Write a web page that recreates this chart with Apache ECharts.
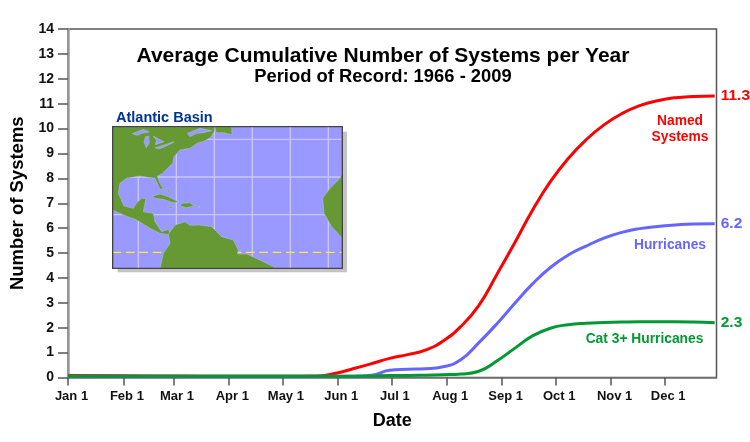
<!DOCTYPE html>
<html>
<head>
<meta charset="utf-8">
<style>
  html, body { margin: 0; padding: 0; background: #fff; }
  #chart { width: 750px; height: 442px; }
</style>
<script src="https://cdn.jsdelivr.net/npm/echarts@6/dist/echarts.min.js"></script>
</head>
<body>
<div id="chart"></div>
<script>
// day of year for the month ticks
var tickDays = [1, 32, 60, 91, 121, 152, 182, 213, 244, 274, 305, 335];
var tickLabels = ["Jan 1", "Feb 1", "Mar 1", "Apr 1", "May 1", "Jun 1", "Jul 1", "Aug 1", "Sep 1", "Oct 1", "Nov 1", "Dec 1"];

var days = [1, 31, 61, 91, 121, 141, 151, 161, 171, 181, 191, 201, 211, 221, 231, 241, 251, 261, 271, 281, 291, 301, 311, 321, 331, 341, 351, 363];
var named = [0.08, 0.07, 0.06, 0.05, 0.05, 0.06, 0.17, 0.36, 0.56, 0.77, 0.92, 1.1, 1.47, 2.06, 2.9, 4.13, 5.4, 6.72, 7.87, 8.8, 9.55, 10.15, 10.6, 10.92, 11.12, 11.24, 11.29, 11.31];
var hurricanes = [0.05, 0.05, 0.05, 0.05, 0.05, 0.05, 0.05, 0.05, 0.09, 0.29, 0.33, 0.35, 0.43, 0.72, 1.4, 2.15, 2.97, 3.76, 4.42, 4.92, 5.28, 5.6, 5.83, 5.98, 6.07, 6.13, 6.17, 6.18];
var major = [0.05, 0.05, 0.05, 0.05, 0.05, 0.05, 0.05, 0.05, 0.06, 0.08, 0.08, 0.09, 0.11, 0.14, 0.25, 0.66, 1.17, 1.67, 1.98, 2.12, 2.18, 2.21, 2.23, 2.24, 2.24, 2.24, 2.23, 2.2];
var endLabels = ["11.3", "6.2", "2.3"];

var RED = "#ff0000", BLUE = "#6666ff", GREEN = "#009933";
var FONT = '"Liberation Sans", Arial, sans-serif';

function pairs(values) {
  return days.map(function (d, i) {
    return [d, values[i]];
  });
}

function curve(name, values, color, label) {
  return {
    name: name,
    type: "line",
    data: pairs(values),
    smooth: 0.5,
    showSymbol: false,
    clip: false,
    lineStyle: { color: color, width: 3 },
    endLabel: {
      show: true,
      formatter: label,
      color: color,
      fontFamily: FONT,
      fontWeight: "bold",
      fontSize: 15.5,
      distance: 6,
    },
  };
}

// inset map, outlines are in a 3x space and scaled down below
var OCEAN = "#9999ff", LAND = "#669933", GRAT = "#c8c8ff";
var land = [
  [[38, 80], [345, 80], [342, 96], [332, 112], [310, 125], [295, 128], [270, 145], [240, 150], [222, 170], [218, 190], [185, 222], [172, 228], [180, 250], [190, 266], [180, 268], [165, 235], [118, 228], [80, 235], [60, 250], [55, 280], [72, 318], [100, 325], [110, 308], [125, 295], [138, 295], [130, 335], [160, 340], [165, 365], [185, 395], [205, 388], [213, 405], [206, 404], [180, 400], [150, 385], [110, 360], [70, 345], [38, 330]],
  [[205, 402], [225, 375], [255, 365], [270, 376], [300, 375], [335, 380], [365, 410], [400, 420], [415, 450], [412, 462], [440, 462], [480, 480], [530, 505], [180, 505], [190, 460], [210, 430]],
  [[727, 215], [720, 235], [690, 265], [668, 295], [672, 340], [695, 380], [727, 415]],
  [[345, 80], [395, 80], [396, 104], [370, 98], [348, 98]],
  [[158, 288], [180, 282], [205, 290], [235, 305], [220, 308], [190, 298], [165, 295]],
  [[245, 310], [270, 308], [282, 318], [260, 323], [240, 318]],
  [[204, 319], [220, 320], [215, 324], [205, 323]],
  [[285, 318], [300, 320], [287, 323]],
  [[200, 266], [208, 270], [205, 278]],
];
var lakes = [
  [[97, 101], [130, 88], [148, 96], [125, 100], [112, 106]],
  [[137, 110], [146, 108], [148, 128], [139, 143], [132, 126]],
  [[160, 108], [170, 114], [192, 125], [166, 134], [170, 122]],
  [[165, 144], [222, 125], [216, 130], [180, 146]],
  [[262, 100], [300, 85], [335, 92], [310, 98], [290, 100], [270, 110]],
];
var meridians = [115, 229, 343, 457, 571, 685];
var parallels = [118, 231, 344];

function poly(points, fill) {
  return { type: "polygon", shape: { points: points }, style: { fill: fill, stroke: "#b4c4dc", lineWidth: 1.5 } };
}
function seg(x1, y1, x2, y2, stroke, w, dash) {
  return { type: "line", shape: { x1: x1, y1: y1, x2: x2, y2: y2 }, style: { stroke: stroke, lineWidth: w, lineDash: dash } };
}
var mapItems = [
  { type: "rect", shape: { x: 53, y: 95, width: 688, height: 422 }, style: { fill: "#c4c4c4" } },
  { type: "rect", shape: { x: 38, y: 80, width: 689, height: 425 }, style: { fill: OCEAN } },
];
meridians.forEach(function (x) {
  mapItems.push(seg(x, 80, x, 505, GRAT, 4));
});
parallels.forEach(function (y) {
  mapItems.push(seg(38, y, 727, y, GRAT, 4));
});
mapItems.push(seg(38, 457, 727, 457, "#ffee22", 4, [26, 14]));
land.forEach(function (p) {
  mapItems.push(poly(p, LAND));
});
lakes.forEach(function (p) {
  mapItems.push(poly(p, OCEAN));
});
mapItems.push({ type: "rect", shape: { x: 38, y: 80, width: 689, height: 425 }, style: { fill: "none", stroke: "#444", lineWidth: 4 } });

function note(text, x, y, color, size, align) {
  return {
    type: "text",
    x: x,
    y: y,
    style: {
      text: text,
      fill: color,
      font: "bold " + size + "px " + FONT,
      align: align || "center",
      verticalAlign: "middle",
      lineHeight: 16,
    },
  };
}

var chart = echarts.init(document.getElementById("chart"));
chart.setOption({
  backgroundColor: "#fff",
  animation: false,
  grid: { left: 68, top: 29, right: 33.5, bottom: 64.5, show: true, borderColor: "#555", borderWidth: 1.5, backgroundColor: "#fff" },
  xAxis: {
    type: "value",
    min: 1,
    max: 364,
    name: "Date",
    nameLocation: "middle",
    nameGap: 35,
    nameTextStyle: { color: "#000", fontFamily: FONT, fontWeight: "bold", fontSize: 18 },
    splitLine: { show: false },
    axisLine: { show: true, lineStyle: { color: "#777", width: 1.5 } },
    axisTick: { show: true, length: 8, customValues: tickDays, lineStyle: { color: "#555", width: 1.5 } },
    axisLabel: {
      customValues: tickDays,
      margin: 12,
      color: "#111",
      fontFamily: FONT,
      fontWeight: "bold",
      fontSize: 13,
      padding: [0, 0, 0, 7],
      formatter: function (v) {
        return tickLabels[tickDays.indexOf(v)];
      },
    },
  },
  yAxis: {
    type: "value",
    min: 0,
    max: 14,
    interval: 1,
    name: "Number of Systems",
    nameLocation: "middle",
    nameGap: 38,
    nameTextStyle: { color: "#000", fontFamily: FONT, fontWeight: "bold", fontSize: 18.5 },
    splitLine: { show: false },
    axisLine: { show: true, lineStyle: { color: "#999", width: 2.5 } },
    axisTick: { show: true, length: 10, lineStyle: { color: "#555", width: 1.5 } },
    axisLabel: { margin: 14, color: "#111", fontFamily: FONT, fontWeight: "bold", fontSize: 14, padding: [2, 0, 0, 0] },
  },
  series: [
    curve("Named Systems", named, RED, endLabels[0]),
    curve("Hurricanes", hurricanes, BLUE, endLabels[1]),
    curve("Cat 3+ Hurricanes", major, GREEN, endLabels[2]),
  ],
  graphic: [
    note("Average Cumulative Number of Systems per Year", 383, 56, "#000", 21),
    note("Period of Record: 1966 - 2009", 383, 77, "#000", 18.4),
    note("Atlantic Basin", 116, 118, "#003399", 14.5, "left"),
    note("Named\nSystems", 680, 129, RED, 13.8),
    note("Hurricanes", 670, 245, BLUE, 13.8),
    note("Cat 3+ Hurricanes", 644.5, 339, GREEN, 13.8),
    { type: "group", x: 100, y: 100, scaleX: 1 / 3, scaleY: 1 / 3, children: mapItems },
  ],
});
</script>
</body>
</html>
